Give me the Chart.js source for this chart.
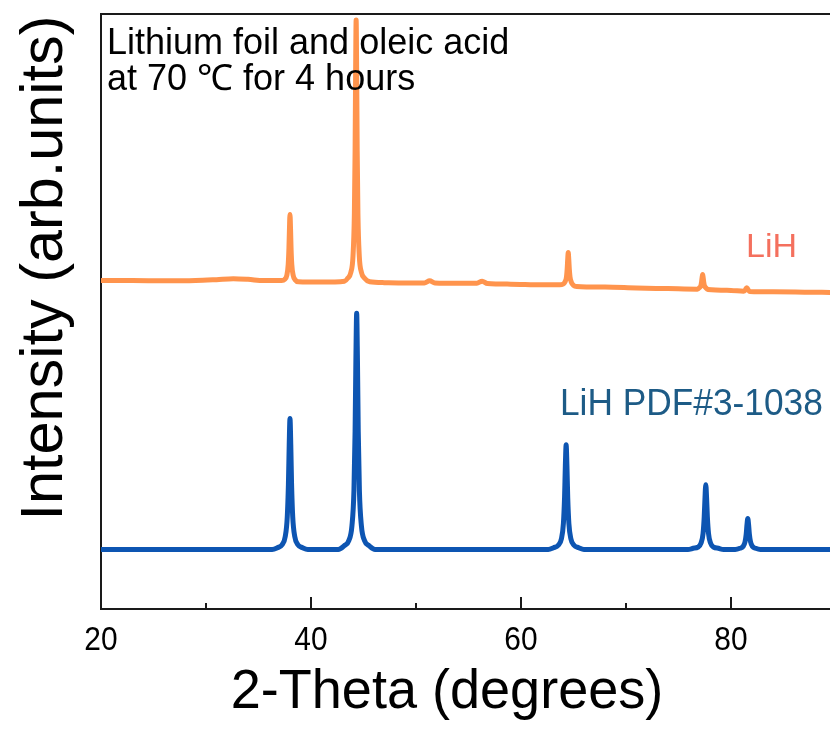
<!DOCTYPE html>
<html>
<head>
<meta charset="utf-8">
<script src="https://cdn.jsdelivr.net/npm/chart.js@4.4.1/dist/chart.umd.min.js"></script>
<style>
  html, body { margin: 0; padding: 0; background: #fff; }
  #wrap { width: 830px; height: 729px; }
</style>
</head>
<body>
<div id="wrap"><canvas id="xrd" width="830" height="729"></canvas></div>
<script>
// --- XRD patterns: 2-theta (deg) vs intensity (arb. units, offset stacked) ---

// sample: lithium foil + oleic acid, 70 C, 4 h
const sampleTheta = [
  20, 23, 26, 29, 31, 32.6, 34, 35.5,
  37.2, 37.5, 37.7, 37.83, 37.9, 37.95, 38.0, 38.05, 38.1, 38.17, 38.3, 38.5, 38.8,
  41, 43.2,
  43.5, 43.8, 44.0, 44.13, 44.2, 44.25, 44.3, 44.35, 44.4, 44.47, 44.6, 44.8, 45.1, 45.6,
  47, 49, 50.8, 51.3, 51.8, 54, 55.8, 56.3, 56.8, 59, 62,
  63.7, 64.0, 64.2, 64.33, 64.4, 64.45, 64.5, 64.55, 64.6, 64.67, 64.8, 65.0, 65.3,
  68, 71, 74,
  76.8, 77.0, 77.13, 77.2, 77.25, 77.3, 77.35, 77.4, 77.47, 77.6, 77.8,
  80, 81.2, 81.35, 81.45, 81.5, 81.55, 81.65, 81.8,
  84, 87, 89.5
];
const sampleIntensity = [
  55.2, 55.2, 55.15, 55.2, 55.35, 55.5, 55.4, 55.2,
  55.2, 55.4, 56.1, 57.9, 60.7, 64.0, 66.3, 64.0, 60.7, 57.9, 56.1, 55.3, 55.0,
  54.95, 55.1,
  55.6, 56.6, 59.3, 66.4, 77.0, 90.2, 99.0, 90.2, 77.0, 66.4, 59.3, 56.6, 55.6, 55.0,
  54.85, 54.8, 54.8, 55.15, 54.8, 54.75, 54.75, 55.1, 54.7, 54.6, 54.5,
  54.5, 54.6, 55.0, 55.8, 57.2, 58.8, 59.9, 58.8, 57.2, 55.8, 54.9, 54.4, 54.2,
  54.1, 53.95, 53.85,
  53.75, 54.0, 54.35, 55.0, 55.7, 56.2, 55.7, 55.0, 54.35, 54.0, 53.7,
  53.55, 53.4, 53.6, 53.9, 54.0, 53.9, 53.6, 53.35,
  53.3, 53.25, 53.2
];

// reference pattern LiH PDF#3-1038
const refTheta = [
  20, 36.3,
  36.8, 37.25, 37.55, 37.74, 37.85, 37.925, 38.0, 38.075, 38.15, 38.26, 38.45, 38.75, 39.2, 39.7,
  42.6, 43.15, 43.6, 43.9, 44.09, 44.2, 44.275, 44.35, 44.425, 44.5, 44.61, 44.8, 45.1, 45.55, 46.1,
  62.6, 63.1, 63.55, 63.85, 64.04, 64.15, 64.225, 64.3, 64.375, 64.45, 64.56, 64.75, 65.05, 65.5, 66.0,
  75.9, 76.4, 76.85, 77.15, 77.34, 77.45, 77.525, 77.6, 77.675, 77.75, 77.86, 78.05, 78.35, 78.8, 79.3,
  80.4, 80.85, 81.15, 81.34, 81.45, 81.525, 81.6, 81.675, 81.75, 81.86, 82.05, 82.35, 82.8,
  89.5
];
const refIntensity = [
  10, 10,
  10.3, 10.8, 12.2, 15.5, 21.0, 27.6, 32.0, 27.6, 21.0, 15.5, 12.2, 10.8, 10.3, 10,
  10, 10.6, 11.5, 14.0, 19.9, 29.9, 41.8, 49.7, 41.8, 29.9, 19.9, 14.0, 11.5, 10.6, 10,
  10, 10.3, 10.7, 11.8, 14.4, 18.8, 24.1, 27.6, 24.1, 18.8, 14.4, 11.8, 10.7, 10.3, 10,
  10, 10.2, 10.4, 11.1, 12.7, 15.5, 18.7, 20.9, 18.7, 15.5, 12.7, 11.1, 10.4, 10.2, 10,
  10, 10.2, 10.5, 11.3, 12.6, 14.2, 15.2, 14.2, 12.6, 11.3, 10.5, 10.2, 10,
  10
];

const xTicks = [20, 30, 40, 50, 60, 70, 80];
const xLabels = [20, 40, 60, 80];

const FONT = "'Liberation Sans', Arial, sans-serif";
const ORANGE = '#FF944D';
const BLUE = '#0D55B2';

const toPoints = (xs, ys) => xs.map((x, i) => ({ x: x, y: ys[i] }));

// text with optional horizontal squeeze (the axis fonts are a bit narrow)
function drawText(ctx, str, x, y, size, color, align, sx) {
  ctx.save();
  ctx.font = size + 'px ' + FONT;
  ctx.fillStyle = color;
  ctx.textAlign = align;
  ctx.textBaseline = 'alphabetic';
  ctx.translate(x, y);
  ctx.scale(sx || 1, 1);
  ctx.fillText(str, 0, 0);
  ctx.restore();
}

// frame top edge, inward ticks, tick labels and the text labels
const decorPlugin = {
  id: 'decor',
  afterDraw(chart) {
    const { ctx, chartArea } = chart;
    const xs = chart.scales.x;
    ctx.save();
    ctx.strokeStyle = '#1a1a1a';
    ctx.lineWidth = 2;
    ctx.beginPath();
    ctx.moveTo(chartArea.left - 1, chartArea.top);
    ctx.lineTo(chart.width, chartArea.top);
    ctx.stroke();

    // ticks pointing into the plot
    xTicks.forEach(v => {
      const px = Math.round(xs.getPixelForValue(v));
      const major = xLabels.includes(v);
      ctx.beginPath();
      ctx.moveTo(px, chartArea.bottom);
      ctx.lineTo(px, chartArea.bottom - (major ? 12 : 6));
      ctx.stroke();
      if (major) drawText(ctx, String(v), px, 650, 34, '#000', 'center', 0.88);
    });
    ctx.restore();

    drawText(ctx, 'Lithium foil and oleic acid', 107, 54, 36, '#000', 'left');
    drawText(ctx, 'at 70 \u2103 for 4 hours', 107, 90, 36, '#000', 'left');
    drawText(ctx, 'LiH', 746, 257, 34, '#F4705E', 'left');
    drawText(ctx, 'LiH PDF#3-1038', 560, 415, 36, '#1D5B86', 'left', 0.98);
    drawText(ctx, '2-Theta (degrees)', 447, 708, 56, '#000', 'center', 0.965);

    ctx.save();
    ctx.translate(62, 268);
    ctx.rotate(-Math.PI / 2);
    drawText(ctx, 'Intensity (arb.units)', 0, 0, 60, '#000', 'center', 0.99);
    ctx.restore();
  }
};

new Chart(document.getElementById('xrd').getContext('2d'), {
  type: 'line',
  data: {
    datasets: [
      {
        label: 'LiH',
        data: toPoints(sampleTheta, sampleIntensity),
        borderColor: ORANGE,
        borderWidth: 5,
        pointRadius: 0,
        cubicInterpolationMode: 'monotone'
      },
      {
        label: 'LiH PDF#3-1038',
        data: toPoints(refTheta, refIntensity),
        borderColor: BLUE,
        borderWidth: 5,
        pointRadius: 0,
        cubicInterpolationMode: 'monotone'
      }
    ]
  },
  options: {
    responsive: false,
    animation: false,
    layout: { padding: { top: 14, right: 0, bottom: 0, left: 0 } },
    plugins: { legend: { display: false }, tooltip: { enabled: false } },
    scales: {
      x: {
        type: 'linear',
        min: 20,
        max: 89.43,
        afterBuildTicks: s => { s.ticks = xTicks.map(v => ({ value: v })); },
        afterFit: s => { s.height = 120; },
        grid: { display: false },
        border: { display: true, width: 2, color: '#1a1a1a' },
        ticks: { display: false }
      },
      y: {
        min: 0,
        max: 100,
        afterFit: s => { s.width = 101; },
        grid: { display: false },
        ticks: { display: false },
        border: { display: true, width: 2, color: '#1a1a1a' }
      }
    }
  },
  plugins: [decorPlugin]
});
</script>
</body>
</html>
